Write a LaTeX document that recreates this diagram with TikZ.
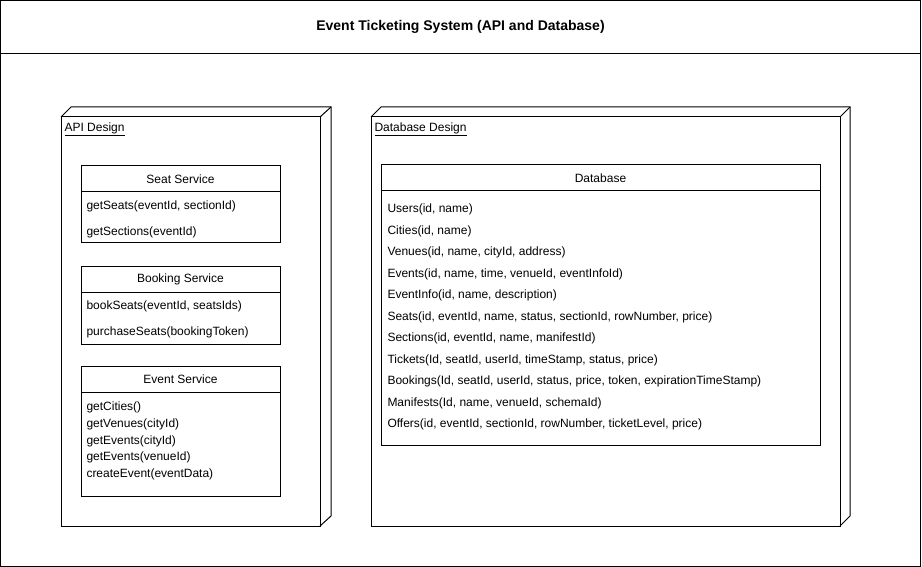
\documentclass[tikz,border=0pt]{standalone}
\usepackage{fontspec}
\setmainfont{Liberation Sans}
\begin{document}
\begin{tikzpicture}[x=1pt,y=-1pt,line width=1pt,font=\fontsize{12}{14}\selectfont,
  box/.style={draw,anchor=north west,inner sep=0pt,outer sep=0pt},
  item/.style={anchor=west,inner sep=0pt,yshift=-1.5pt},
  lbl/.style={anchor=west,inner sep=0pt}]
\useasboundingbox (0,0) rectangle (922,567);
% outer frame and title
\node[box,minimum width=920pt,minimum height=566pt] (frame) at (0.5,0.5) {};
\node[box,minimum width=920pt,minimum height=53pt,font=\fontsize{14}{16}\selectfont\bfseries] (title) at (0.5,0.5) {Event Ticketing System (API and Database)};
% API 3D node
\node[box,minimum width=259pt,minimum height=409pt] (api) at (61,117) {};
\coordinate (apiTR) at (331,107);
\draw (api.north west) -- ++(10,-10) -- (apiTR) -- (apiTR |- 0,516) -- (api.south east);
\draw (api.north east) -- (apiTR);
\node[lbl] (apilbl) at (64,129) {\underline{API Design}};
% DB 3D node
\node[box,minimum width=469pt,minimum height=409pt] (db) at (371,117) {};
\coordinate (dbTR) at (850,107);
\draw (db.north west) -- ++(10,-10) -- (dbTR) -- (dbTR |- 0,516) -- (db.south east);
\draw (db.north east) -- (dbTR);
\node[lbl] (dblbl) at (374,129) {\underline{Database Design}};
% Seat Service
\node[box,minimum width=199pt,minimum height=26pt] (seath) at (81,166) {Seat Service};
\node[box,minimum width=199pt,minimum height=51pt] (seatb) at (seath.south west) {};
\node[item] (s1) at (86,205) {getSeats(eventId, sectionId)};
\node[item] (s2) at (86,231) {getSections(eventId)};
% Booking Service
\node[box,minimum width=199pt,minimum height=26pt] (bookh) at (81,266) {Booking Service};
\node[box,minimum width=199pt,minimum height=52pt] (bookb) at (bookh.south west) {};
\node[item] (b1) at (86,305) {bookSeats(eventId, seatsIds)};
\node[item] (b2) at (86,331) {purchaseSeats(bookingToken)};
% Event Service
\node[box,minimum width=199pt,minimum height=26pt] (evh) at (81,366) {Event Service};
\node[box,minimum width=199pt,minimum height=104pt] (evb) at (evh.south west) {};
\node[item] (e1) at (86,406) {getCities()};
\node[item] (e2) at (86,423) {getVenues(cityId)};
\node[item] (e3) at (86,440) {getEvents(cityId)};
\node[item] (e4) at (86,456) {getEvents(venueId)};
\node[item] (e5) at (86,473) {createEvent(eventData)};
% Database
\node[box,minimum width=439pt,minimum height=26pt] (dbh) at (381,165) {Database};
\node[box,minimum width=439pt,minimum height=254pt] (dbb) at (dbh.south west) {};
\node[item] (d1) at (387,208) {Users(id, name)};
\node[item] (d2) at (387,229.5) {Cities(id, name)};
\node[item] (d3) at (387,251) {Venues(id, name, cityId, address)};
\node[item] (d4) at (387,272.5) {Events(id, name, time, venueId, eventInfoId)};
\node[item] (d5) at (387,294) {EventInfo(id, name, description)};
\node[item] (d6) at (387,315.5) {Seats(id, eventId, name, status, sectionId, rowNumber, price)};
\node[item] (d7) at (387,337) {Sections(id, eventId, name, manifestId)};
\node[item] (d8) at (387,358.5) {Tickets(Id, seatId, userId, timeStamp, status, price)};
\node[item] (d9) at (387,380) {Bookings(Id, seatId, userId, status, price, token, expirationTimeStamp)};
\node[item] (d10) at (387,401.5) {Manifests(Id, name, venueId, schemaId)};
\node[item] (d11) at (387,423) {Offers(id, eventId, sectionId, rowNumber, ticketLevel, price)};
\end{tikzpicture}
\end{document}
